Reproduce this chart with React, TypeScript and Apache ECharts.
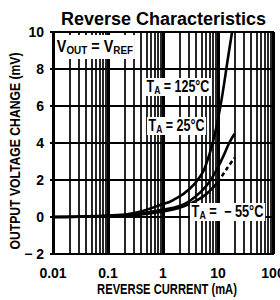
import React, { useEffect, useRef } from "react";
import * as echarts from "echarts";

const currentHot = [0.01, 0.03, 0.1, 0.3, 1, 1.5, 3, 5, 6, 8, 10, 12, 15, 18];
const voltsHot = [0, 0.02, 0.08, 0.22, 0.7, 0.9, 1.5, 2.3, 2.8, 4.0, 5.3, 6.6, 8.5, 10];

const currentRoom = [0.01, 0.03, 0.1, 0.3, 1, 2, 3, 5, 7, 10, 13, 16, 20];
const voltsRoom = [0, 0.01, 0.05, 0.15, 0.4, 0.6, 0.85, 1.4, 1.9, 2.7, 3.4, 4.0, 4.5];

const currentCold = [0.01, 0.03, 0.1, 0.3, 1, 2, 3, 5, 7, 10];
const voltsCold = [0, 0.01, 0.03, 0.1, 0.3, 0.5, 0.7, 1.05, 1.4, 1.9];
const currentColdDash = [10, 13, 16, 20];
const voltsColdDash = [1.9, 2.4, 2.8, 3.2];

const minorGridValues = [
  0.02, 0.03, 0.04, 0.05, 0.06, 0.07, 0.08, 0.09,
  0.2, 0.3, 0.4, 0.5, 0.6, 0.7, 0.8, 0.9,
  2, 3, 4, 5, 6, 7, 8, 9,
  20, 30, 40, 50, 60, 70, 80, 90,
];

const xTickLabels: Record<string, string> = { "0.01": "0.01", "0.1": "0.1", "1": "1", "10": "10", "100": "100" };
const yTickLabels: Record<string, string> = { "-2": "− 2", "0": "0", "2": "2", "4": "4", "6": "6", "8": "8", "10": "10" };

const FONT = '"Liberation Sans", Arial, Helvetica, sans-serif';

function pairs(xs: number[], ys: number[]) {
  return xs.map((x, i) => [x, ys[i]]);
}

const richLabel = {
  m: { fontFamily: FONT, fontWeight: "bold", fontSize: 16, lineHeight: 18, verticalAlign: "top", fill: "#000" },
  s: { fontFamily: FONT, fontWeight: "bold", fontSize: 11, lineHeight: 11, verticalAlign: "bottom", fill: "#000" },
};

function tLabel(rest: string, x: number, y: number, scaleX: number) {
  return {
    type: "text",
    x,
    y,
    z: 100,
    scaleX,
    style: {
      text: `{m|T}{s|A}{m|${rest}}`,
      backgroundColor: "#fff",
      padding: [0, 2, 0, 2],
      rich: richLabel,
    },
  };
}

export default function App() {
  const ref = useRef<HTMLDivElement>(null);
  useEffect(() => {
    if (!ref.current) return;
    const chart = echarts.init(ref.current, null, { renderer: "svg" });
    const curve = { type: "line", smooth: true, symbol: "none", silent: true, lineStyle: { color: "#000", width: 2.6 } };
    chart.setOption({
      animation: false,
      backgroundColor: "#fff",
      title: {
        text: "Reverse Characteristics",
        left: 56,
        top: 5,
        textStyle: { fontFamily: FONT, fontWeight: "bold", fontSize: 18, color: "#000" },
      },
      grid: {
        left: 53,
        right: 7,
        top: 32,
        bottom: 46,
        outerBoundsMode: "none",
        containLabel: false,
        show: true,
        borderColor: "#000",
        borderWidth: 2,
        backgroundColor: "transparent",
      },
      xAxis: {
        type: "log",
        logBase: 10,
        min: 0.01,
        max: 100,
        axisLine: { show: true, lineStyle: { color: "#000", width: 2 } },
        axisTick: { show: false },
        axisLabel: {
          margin: 12,
          fontFamily: FONT,
          fontWeight: "bold",
          fontSize: 14,
          color: "#000",
          formatter: (v: number) => xTickLabels[String(v)] ?? "",
        },
        splitLine: { show: true, lineStyle: { color: "#000", width: 3 } },
      },
      yAxis: {
        type: "value",
        min: -2,
        max: 10,
        interval: 2,
        axisLine: { show: true, lineStyle: { color: "#000", width: 2 } },
        axisTick: { show: true, length: 3, lineStyle: { color: "#000", width: 2 } },
        axisLabel: {
          margin: 9,
          fontFamily: FONT,
          fontWeight: "bold",
          fontSize: 14,
          color: "#000",
          formatter: (v: number) => yTickLabels[String(v)] ?? "",
        },
        splitLine: { show: true, lineStyle: { color: "#000", width: 2 } },
      },
      graphic: [
        {
          type: "text",
          x: 15,
          y: 151,
          rotation: Math.PI / 2,
          scaleX: 0.87,
          style: {
            text: "OUTPUT VOLTAGE CHANGE (mV)",
            fontFamily: FONT,
            fontWeight: "bold",
            fontSize: 14,
            fill: "#000",
            align: "center",
            verticalAlign: "middle",
          },
        },
        {
          type: "text",
          x: 167,
          y: 290,
          scaleX: 0.8,
          style: {
            text: "REVERSE CURRENT (mA)",
            fontFamily: FONT,
            fontWeight: "bold",
            fontSize: 14,
            fill: "#000",
            align: "center",
            verticalAlign: "middle",
          },
        },
        {
          type: "text",
          x: 55,
          y: 35,
          z: 100,
          scaleX: 0.9,
          style: {
            text: "{m|V}{s|OUT}{m| = V}{s|REF}",
            backgroundColor: "#fff",
            padding: [3, 2, 3, 2],
            rich: richLabel,
          },
        },
        tLabel(" = 125°C", 145, 78, 0.78),
        tLabel(" = 25°C", 147, 117, 0.78),
        tLabel(" =  − 55°C", 190, 203, 0.8),
      ],
      series: [
        {
          type: "line",
          data: [[0.01, -2]],
          symbol: "none",
          silent: true,
          lineStyle: { opacity: 0 },
          markLine: {
            silent: true,
            symbol: ["none", "none"],
            label: { show: false },
            lineStyle: { color: "#000", width: 1.7, type: "solid" },
            data: minorGridValues.map((v) => ({ xAxis: v })),
          },
        },
        { ...curve, data: pairs(currentHot, voltsHot) },
        { ...curve, data: pairs(currentRoom, voltsRoom) },
        { ...curve, data: pairs(currentCold, voltsCold) },
        { ...curve, data: pairs(currentColdDash, voltsColdDash), lineStyle: { color: "#000", width: 2.6, type: [4, 3] } },
      ],
    });
    return () => chart.dispose();
  }, []);
  return <div ref={ref} style={{ position: "fixed", left: 0, top: 0, width: 280, height: 300 }} />;
}
